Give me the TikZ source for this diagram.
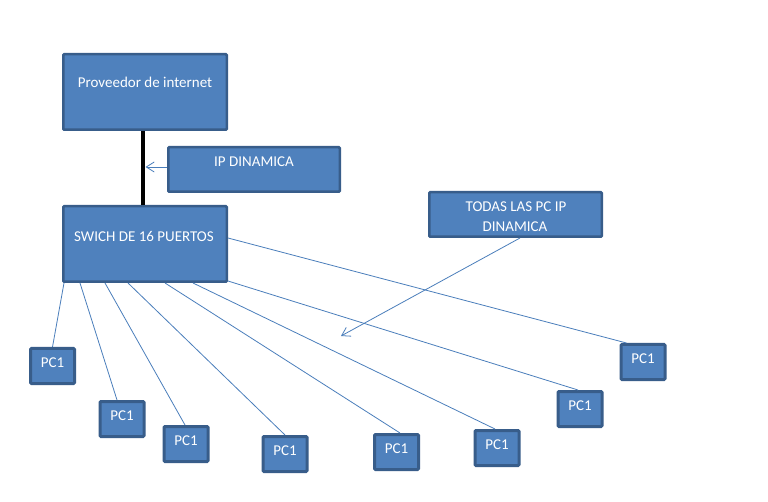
\documentclass[tikz,border=0pt]{standalone}
\usepackage{fontspec}
\setmainfont{Carlito}
\usetikzlibrary{arrows.meta}
\definecolor{boxfill}{HTML}{4F81BD}
\definecolor{boxline}{HTML}{385D8A}
\definecolor{wire}{HTML}{4A7EBB}
\tikzset{
  bigbox/.style={draw=boxline, fill=boxfill, line width=2.5pt, rounded corners=1pt, inner sep=0pt},
  pcbox/.style={draw=boxline, fill=boxfill, line width=3pt, rounded corners=1pt, inner sep=0pt,
    minimum width=44pt, minimum height=35pt},
  txt/.style={text=white, font=\fontsize{15pt}{18pt}\selectfont, inner sep=0pt, anchor=base},
  wireline/.style={draw=wire, line width=0.8pt},
  arr/.style={draw=wire, line width=0.8pt, -{Straight Barb[length=8pt,width=10pt,line width=0.8pt]}}
}
\begin{document}
\begin{tikzpicture}[x=1pt,y=-1pt]
\useasboundingbox[fill=white] (0,0) rectangle (768,502);
% main boxes
\node[bigbox, minimum width=163.5pt, minimum height=75.5pt] (prov) at (145,92) {};
\node[bigbox, minimum width=171.5pt, minimum height=44.5pt] (ipd) at (254,169.5) {};
\node[bigbox, minimum width=163.5pt, minimum height=75.5pt] (sw) at (145,244) {};
\node[bigbox, minimum width=172.5pt, minimum height=44.5pt] (todas) at (515.5,214.5) {};
% texts
\node[txt] (provt) at (145,88) {Proveedor de internet};
\node[txt] (ipdt) at (254,167) {IP DINAMICA};
\node[txt] (swt) at (144,242) {SWICH DE 16 PUERTOS};
\node[txt] (todast1) at (516,212) {TODAS LAS PC IP};
\node[txt] (todast2) at (515,232) {DINAMICA};
% PCs
\foreach \n/\x/\y in {pa/52.5/366, pb/122/419, pc/186/444, pd/285/454, pe/396.5/452, pf/497/448, pg/580/409, ph/643/362}{
  \node[pcbox] (\n) at (\x,\y) {};
  \node[txt] (\n t) at (\x,\y+1) {PC1};
}
% black link
\draw[line width=4.5pt, black] ([xshift=-2pt]prov.south) -- ([xshift=-2pt]sw.north);
% arrows
\coordinate (ipt) at (145.5,167);
\draw[arr] ([yshift=2.5pt]ipd.west) -- (ipt);
\coordinate (tgt) at (341,336);
\draw[arr] ([xshift=4.5pt]todas.south) -- (tgt);
% switch to PCs
\draw[wireline] ([xshift=2pt]sw.south west) -- (pa.north);
\draw[wireline] ([xshift=18pt]sw.south west) -- ([xshift=-5pt]pb.north);
\draw[wireline] ([xshift=43pt]sw.south west) -- ([xshift=-1pt]pc.north);
\draw[wireline] ([xshift=66pt]sw.south west) -- (pd.north);
\draw[wireline] ([xshift=103pt]sw.south west) -- ([xshift=3.5pt]pe.north);
\draw[wireline] ([xshift=131pt]sw.south west) -- ([xshift=-2pt]pf.north);
\draw[wireline] ([yshift=2pt]sw.south east) -- ([xshift=-2pt]pg.north);
\draw[wireline] ([yshift=6pt]sw.east) -- ([xshift=7pt]ph.north west);
\end{tikzpicture}
\end{document}
